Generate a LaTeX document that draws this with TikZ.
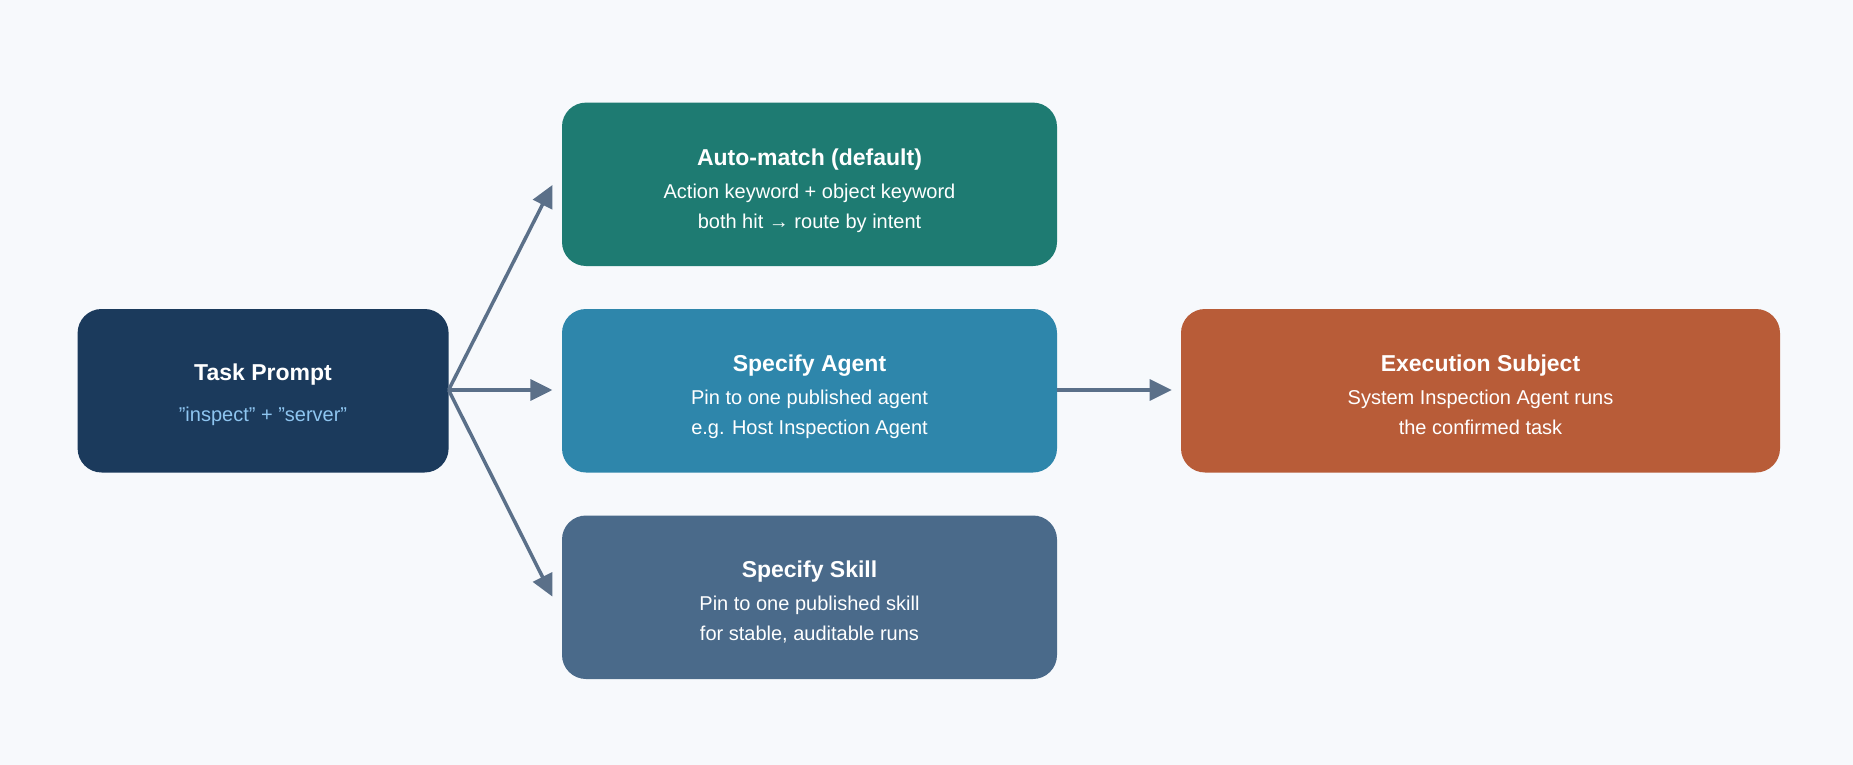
\documentclass[tikz,border=0pt]{standalone}
\usepackage{fontspec}
\setmainfont{Liberation Sans}
\usetikzlibrary{arrows.meta}
\definecolor{bg}{HTML}{F7F9FC}
\definecolor{ctask}{HTML}{1B3A5C}
\definecolor{cauto}{HTML}{1E7B72}
\definecolor{cagent}{HTML}{2E86AB}
\definecolor{cskill}{HTML}{4A6A8A}
\definecolor{cexec}{HTML}{B85C38}
\definecolor{carrow}{HTML}{5B7089}
\definecolor{csub}{HTML}{8EC5F0}
\tikzset{
  box/.style={rounded corners=24pt, inner sep=0pt, align=center, text=white},
  ttl/.style={font=\fontsize{23}{28}\selectfont\bfseries},
  arr/.style={draw=carrow, line width=3.5pt, -{Triangle[length=22pt,width=21pt]}}
}
\begin{document}
\begin{tikzpicture}[x=1pt,y=-1pt]
\fill[bg] (0,0) rectangle (1853,765);
\useasboundingbox (0,0) rectangle (1853,765);
\newcommand{\mybox}[7]{%
  \fill[#6, rounded corners=24pt] (#2,#3) rectangle (#4,#5);
  \node[box] (#1) at ({(#2+#4)/2},{(#3+#5)/2}) {\phantom{x}};
  \node[text=white, ttl, anchor=base] at ({(#2+#4)/2},{(#3+#5)/2-7}) {#7};
}
\fill[ctask, rounded corners=24pt] (77.6,309) rectangle (448.6,472.5);
\coordinate (task) at (448.6,390);
\node[text=white,ttl,anchor=base] (tt) at (263,380) {Task Prompt};
\node[text=csub,font=\fontsize{20}{24}\selectfont,anchor=base] at (263,421) {"inspect" + "server"};

\fill[cauto, rounded corners=24pt] (562,102.6) rectangle (1057,266);
\node[text=white,ttl,anchor=base] at (809.5,165) {Auto-match (default)};
\node[text=white,font=\fontsize{20}{30}\selectfont,align=center,anchor=north] at (809.5,180) {Action keyword + object keyword\\both hit → route by intent};
\coordinate (auto) at (552.4,185);

\fill[cagent, rounded corners=24pt] (562,309) rectangle (1057,472.5);
\node[text=white,ttl,anchor=base] at (809.5,371) {Specify Agent};
\node[text=white,font=\fontsize{20}{30}\selectfont,align=center,anchor=north] at (809.5,386) {Pin to one published agent\\e.g. Host Inspection Agent};
\coordinate (agentL) at (552.4,390);
\coordinate (agentR) at (1057,390);

\fill[cskill, rounded corners=24pt] (562,515.5) rectangle (1057,679);
\node[text=white,ttl,anchor=base] at (809.5,577) {Specify Skill};
\node[text=white,font=\fontsize{20}{30}\selectfont,align=center,anchor=north] at (809.5,592) {Pin to one published skill\\for stable, auditable runs};
\coordinate (skill) at (552.4,596.6);

\fill[cexec, rounded corners=24pt] (1181,309) rectangle (1780,472.5);
\node[text=white,ttl,anchor=base] at (1480.5,371) {Execution Subject};
\node[text=white,font=\fontsize{20}{30}\selectfont,align=center,anchor=north] at (1480.5,386) {System Inspection Agent runs\\the confirmed task};
\coordinate (exec) at (1171.7,390);

\draw[arr] (task) -- (auto);
\draw[arr] (task) -- (agentL);
\draw[arr] (task) -- (skill);
\draw[arr] (agentR) -- (exec);
\end{tikzpicture}
\end{document}
